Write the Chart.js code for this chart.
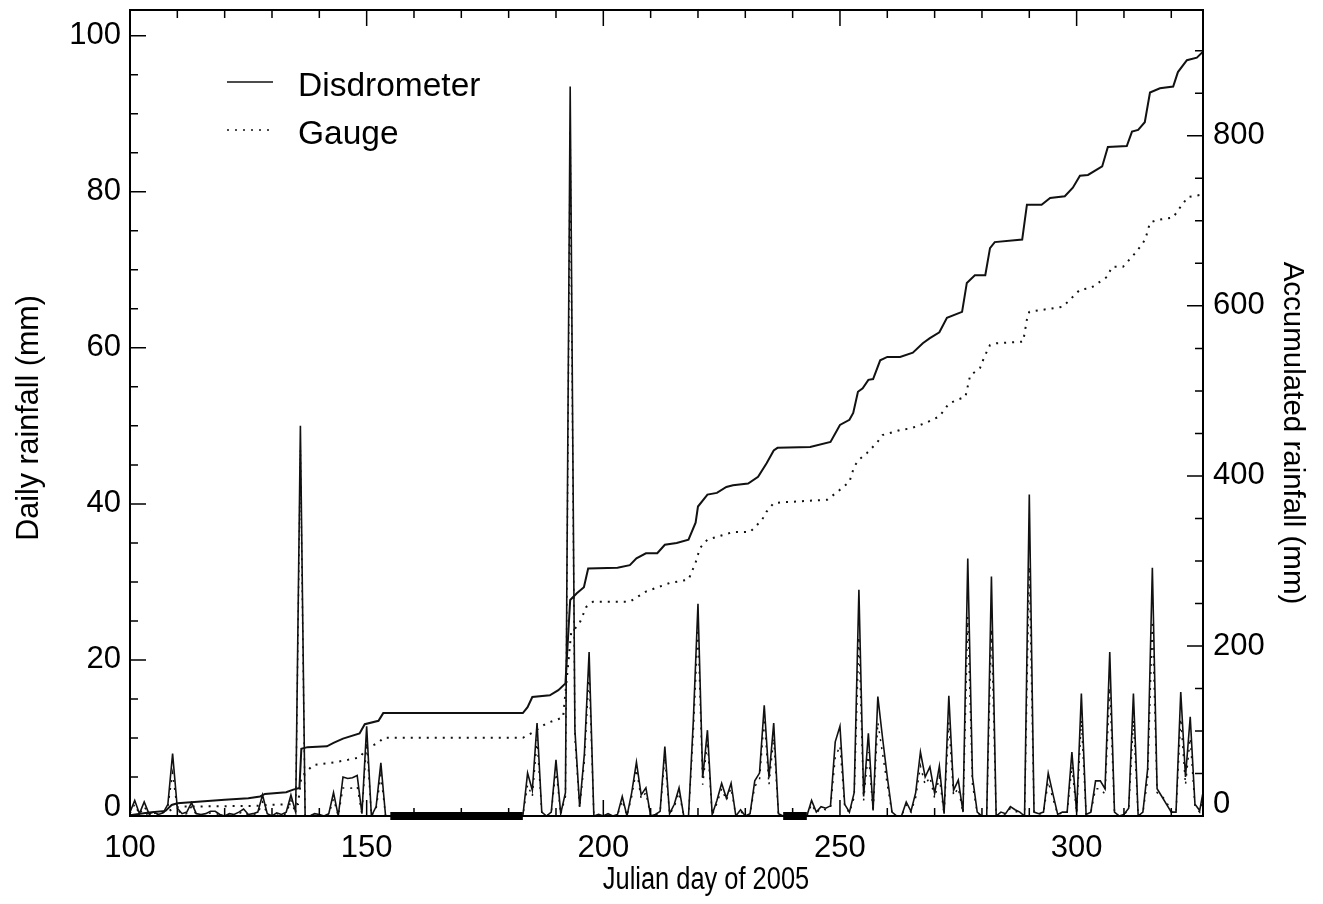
<!DOCTYPE html>
<html><head><meta charset="utf-8">
<script src="https://cdn.jsdelivr.net/npm/chart.js@4.4.1/dist/chart.umd.min.js"></script>
<style>html,body{margin:0;padding:0;background:#fff;}canvas{display:block;}</style>
</head><body>
<canvas id="c" width="1323" height="904"></canvas>
<script>
// ---- data ----
const days = [
100,101,102,103,104,105,106,107,108,109,
110,111,112,113,114,115,116,117,118,119,
120,121,122,123,124,125,126,127,128,129,
130,131,132,133,134,135,136,137,138,139,
140,141,142,143,144,145,146,147,148,149,
150,151,152,153,154,155,156,157,158,159,
160,161,162,163,164,165,166,167,168,169,
170,171,172,173,174,175,176,177,178,179,
180,181,182,183,184,185,186,187,188,189,
190,191,192,193,194,195,196,197,198,199,
200,201,202,203,204,205,206,207,208,209,
210,211,212,213,214,215,216,217,218,219,
220,221,222,223,224,225,226,227,228,229,
230,231,232,233,234,235,236,237,238,239,
240,241,242,243,244,245,246,247,248,249,
250,251,252,253,254,255,256,257,258,259,
260,261,262,263,264,265,266,267,268,269,
270,271,272,273,274,275,276,277,278,279,
280,281,282,283,284,285,286,287,288,289,
290,291,292,293,294,295,296,297,298,299,
300,301,302,303,304,305,306,307,308,309,
310,311,312,313,314,315,316,317,318,319,
320,321,322,323,324,325,326,327];

const disdrometerDaily = [
0.5,2.0,0.3,1.8,0.3,0.5,0.2,0.4,1.5,8.0,
1.0,0.3,0.5,1.7,0.3,0.2,0.3,0.6,0.6,0.2,
0.0,0.3,0.2,0.5,0.9,0.2,0.3,0.5,2.7,0.3,
0.0,0.4,0.2,0.5,2.7,0.5,50.0,0.0,0.0,0.3,
0.2,0.0,0.3,3.0,0.0,5.0,4.8,4.9,5.2,0.3,
11.5,0.0,1.2,6.8,0.0,0,0,0,0,0,
0,0,0,0,0,0,0,0,0,0,
0,0,0,0,0,0,0,0,0,0,
0,0,0,0.0,5.5,3.3,11.9,0.5,0.0,0.5,
7.2,0.3,3.0,93.5,11.0,1.2,8.0,21.0,0.0,0.2,
0.0,0.3,0.0,0.2,2.5,0.0,3.0,6.9,2.7,3.6,
0.0,0.2,0.6,8.9,0.3,1.5,3.6,0.0,0.0,12.0,
27.2,4.9,11.0,0.2,2.0,4.2,2.3,4.2,0.0,0.8,
0.0,0.3,4.5,5.5,14.2,4.9,11.9,0.3,0,0,
0,0,0,0,2.0,0.5,1.2,1.0,1.3,9.5,
11.5,1.5,0.5,3.0,29.0,2.5,10.6,0.7,15.3,10.0,
5.0,0.5,0.0,0.0,1.8,0.6,3.0,8.2,5.0,6.3,
2.9,6.4,0.3,15.4,3.3,4.6,0.5,33.0,5.0,0.5,
0.0,0.0,30.7,0.0,0.5,0.3,1.2,0.8,0.5,0.0,
41.2,0.5,0.3,0.5,5.5,2.8,0.2,0.5,0.5,8.2,
0.5,15.7,0.2,0.5,4.5,4.5,3.5,21.0,0.5,0.0,
0.2,1.0,15.7,0.0,0.5,6.0,31.8,3.5,2.5,1.5,
0.5,0.5,15.9,5.0,12.7,1.5,0.7,4.0];

const gaugeDaily = [
0.3,1.5,0.2,1.2,0.2,0.4,0.2,0.3,1.2,5.5,
0.8,0.2,0.3,1.2,0.2,0.1,0.2,0.4,0.4,0.1,
0.0,0.2,0.1,0.3,0.6,0.1,0.2,0.3,1.8,0.2,
0.0,0.3,0.1,0.3,2.0,0.3,47.0,0.0,0.0,0.2,
0.1,0.0,0.2,2.2,0.0,3.6,3.5,3.6,3.8,0.2,
9.5,0.0,0.9,5.2,0.0,0,0,0,0,0,
0,0,0,0,0,0,0,0,0,0,
0,0,0,0,0,0,0,0,0,0,
0,0,0,0.0,4.0,2.5,9.8,0.4,0.0,0.4,
6.0,0.2,2.5,88.0,10.0,1.0,7.0,18.5,0.0,0.1,
0.0,0.2,0.0,0.1,2.0,0.0,2.5,6.0,2.2,3.0,
0.0,0.1,0.5,7.5,0.2,1.2,3.0,0.0,0.0,10.5,
24.0,4.0,9.5,0.1,1.6,3.5,2.0,3.6,0.0,0.6,
0.0,0.2,3.8,4.6,12.5,4.0,10.0,0.2,0,0,
0,0,0,0,1.5,0.4,1.0,0.8,1.0,7.5,
9.0,1.2,0.4,2.4,23.0,2.0,8.2,0.5,12.0,8.0,
4.0,0.4,0.0,0.0,1.4,0.5,2.4,6.4,4.0,5.0,
2.3,5.0,0.2,12.0,2.6,3.6,0.4,25.5,4.0,0.4,
0.0,0.0,24.0,0.0,0.4,0.2,1.0,0.6,0.4,0.0,
32.0,0.4,0.2,0.4,4.4,2.2,0.2,0.4,0.4,6.4,
0.4,12.3,0.2,0.4,3.5,3.5,2.8,16.5,0.4,0.0,
0.2,0.8,12.3,0.0,0.4,4.7,25.0,3.0,2.6,1.8,
0.6,0.4,12.5,4.0,10.0,1.2,0.5,3.2];

const accDisdrometerDays = [100,104,107.5,108.8,110,115,120,125,127.5,128.5,133,134.5,135.8,136.2,137.5,141.6,143,145,148.5,149.6,152.5,153.5,183,184,185,188.7,190.5,192,193,194.4,195.9,196.8,203,205.6,207,209,211.4,213,215.5,218,219.5,220,222,224,226,227.4,230.6,232.7,234.5,236,236.8,243.7,248,250,252,252.8,253.8,254.8,256,257,258.5,260,262.7,265.4,267.5,269,271,272.6,275.8,276.8,278.5,280.7,281.7,282.7,288.5,289.5,292.6,294.4,297.5,299.2,300.7,302.4,305.4,306.6,310.6,311.7,313,314.4,315.5,317.6,320.4,321.4,323.3,325.4,326.7];
const accDisdrometer = [1,4,6,13,15,17,19,21,23,26,28,31,33,79,81,82,86,91,97,108,112,121,121,128,140,142,148,156,254,262,269,291,292,295,303,309,309,319,321,325,345,364,378,380,387,389,391,399,415,430,433,434,440,460,466,474,499,503,513,514,536,540,540,545,556,562,569,586,593,627,636,636,668,675,678,719,719,727,729,739,753,754,764,787,788,805,807,816,851,856,858,875,889,892,899];

const accGaugeDays = [100,104,108,109.5,111,127,129,135.5,136.2,138.7,143,146,148.6,150,152.5,153.5,183,185,188,191.5,193.2,195,196.4,197.8,205.6,209,214,218,219.5,220.4,222,227.4,231,233.5,234.5,236,238,247.3,249.4,252,253,254,255.7,257.8,259,262.7,265,268,271,273,275,276.5,277.5,279.6,280.5,281.7,283,288.7,289.5,290,297.1,300.7,303,306.4,307.5,309.8,312.7,314.5,315.5,317,320.4,321.5,323.5,326.7];
const accGauge = [1,3,5,10,11,12,13,14,46,60,63,66,69,80,86,92,92,98,109,116,215,227,246,252,252,264,274,278,298,315,325,334,334,348,358,368,369,372,381,393,411,419,427,439,448,454,456,462,470,485,490,493,518,527,540,554,556,558,584,593,599,619,621,634,646,646,664,678,698,701,704,713,728,731];

// missing-data periods marked on the day axis
const missingStart = [155, 238];
const missingEnd = [183, 243];

const seriesNames = ['Disdrometer', 'Gauge'];
const xTickValues = [100, 150, 200, 250, 300];
const yTickValues = [0, 20, 40, 60, 80, 100];
const y2TickValues = [0, 200, 400, 600, 800];
const axisTitleX = 'Julian day of 2005';
const axisTitleY = 'Daily rainfall (mm)';
const axisTitleY2 = 'Accumulated rainfall (mm)';

// ---- styling ----
const FONT = '"Liberation Sans", Arial, Helvetica, sans-serif';
const INK = '#111';
const DOT = [2, 6];
const ZERO_LIFT_Y = 1.15;   // the "0" labels sit a little above the bottom tick
const ZERO_LIFT_Y2 = 13;

const pts = (xs, ys) => xs.map((x, i) => ({x: x, y: ys[i]}));

const datasets = [
  {label: seriesNames[0] + ' accumulated', data: pts(accDisdrometerDays, accDisdrometer), yAxisID: 'y2', borderColor: INK, borderWidth: 2},
  {label: seriesNames[1] + ' accumulated', data: pts(accGaugeDays, accGauge), yAxisID: 'y2', borderColor: INK, borderWidth: 2, borderDash: DOT},
  {label: seriesNames[0], data: pts(days, disdrometerDaily), yAxisID: 'y', borderColor: INK, borderWidth: 1.6},
  {label: seriesNames[1], data: pts(days, gaugeDaily), yAxisID: 'y', borderColor: INK, borderWidth: 1.5, borderDash: DOT}
];
missingStart.forEach((s, i) => {
  datasets.push({label: 'missing', data: [{x: s, y: 0}, {x: missingEnd[i], y: 0}], yAxisID: 'y',
    borderColor: '#000', borderWidth: 8, borderCapStyle: 'butt', clip: false});
});

const frameAndTicks = {
  id: 'frameAndTicks',
  afterDatasetsDraw(chart) {
    const {ctx, chartArea: a, scales} = chart;
    ctx.save();
    ctx.strokeStyle = '#000';
    ctx.lineWidth = 1.5;
    ctx.beginPath();
    const sx = scales.x;
    for (let v = 100; v <= sx.max; v += 10) {
      const p = sx.getPixelForValue(v), L = v % 50 === 0 ? 16 : 8;
      ctx.moveTo(p, a.bottom); ctx.lineTo(p, a.bottom - L);
      ctx.moveTo(p, a.top); ctx.lineTo(p, a.top + L);
    }
    const sy = scales.y;
    for (let v = 0; v <= sy.max; v += 5) {
      const p = sy.getPixelForValue(v), L = v % 20 === 0 ? 16 : 8;
      ctx.moveTo(a.left, p); ctx.lineTo(a.left + L, p);
    }
    const s2 = scales.y2;
    for (let v = 0; v <= s2.max; v += 50) {
      const p = s2.getPixelForValue(v), L = v % 200 === 0 ? 16 : 8;
      ctx.moveTo(a.right, p); ctx.lineTo(a.right - L, p);
    }
    ctx.stroke();
    ctx.lineWidth = 2;
    ctx.strokeRect(a.left, a.top, a.right - a.left, a.bottom - a.top);
    ctx.restore();
  }
};

const insideLegend = {
  id: 'insideLegend',
  afterDraw(chart) {
    const {ctx, chartArea: a} = chart;
    ctx.save();
    ctx.font = '33.5px ' + FONT;
    ctx.fillStyle = '#000';
    ctx.textBaseline = 'middle';
    seriesNames.forEach((name, i) => {
      const ds = chart.data.datasets[2 + i];
      const y = a.top + 72 + i * 48;
      ctx.strokeStyle = INK;
      ctx.lineWidth = 1.5;
      ctx.setLineDash(ds.borderDash || []);
      ctx.beginPath();
      ctx.moveTo(a.left + 97, y);
      ctx.lineTo(a.left + 143, y);
      ctx.stroke();
      ctx.setLineDash([]);
      ctx.fillText(name, a.left + 168, y + 5);
    });
    ctx.restore();
  }
};

const axisTitles = {
  id: 'axisTitles',
  afterDraw(chart) {
    const {ctx, chartArea: a} = chart;
    ctx.save();
    ctx.fillStyle = '#000';
    ctx.textAlign = 'center';
    ctx.textBaseline = 'middle';
    ctx.save();
    ctx.translate(a.left + 576, a.bottom + 64);
    ctx.scale(0.82, 1);
    ctx.font = '31px ' + FONT;
    ctx.fillText(axisTitleX, 0, 0);
    ctx.restore();
    ctx.save();
    ctx.translate(30, a.top + 408);
    ctx.rotate(-Math.PI / 2);
    ctx.font = '30.5px ' + FONT;
    ctx.fillText(axisTitleY, 0, 0);
    ctx.restore();
    ctx.save();
    ctx.translate(1292, a.top + 423);
    ctx.rotate(Math.PI / 2);
    ctx.font = '29.5px ' + FONT;
    ctx.fillText(axisTitleY2, 0, 0);
    ctx.restore();
    ctx.restore();
  }
};

const noPad = s => { s.paddingTop = 0; s.paddingBottom = 0; s.paddingLeft = 0; s.paddingRight = 0; };
const tickFont = {family: FONT, size: 31};

new Chart(document.getElementById('c'), {
  type: 'line',
  data: {datasets: datasets},
  plugins: [frameAndTicks, insideLegend, axisTitles],
  options: {
    responsive: false,
    animation: false,
    devicePixelRatio: 1,
    layout: {padding: {top: 10, left: 0, right: 0, bottom: 0}},
    elements: {point: {radius: 0}, line: {tension: 0, borderJoinStyle: 'miter'}},
    plugins: {legend: {display: false}, tooltip: {enabled: false}},
    scales: {
      x: {
        type: 'linear', position: 'bottom', min: 100, max: 326.7,
        afterBuildTicks: s => { s.ticks = xTickValues.map(v => ({value: v})); },
        afterFit: s => { s.height = 88; noPad(s); },
        grid: {display: false, drawTicks: false}, border: {display: false},
        ticks: {font: tickFont, color: '#000', padding: 14, maxRotation: 0, autoSkip: false},
        title: {display: false}
      },
      y: {
        type: 'linear', position: 'left', min: 0, max: 103.3,
        afterBuildTicks: s => { s.ticks = yTickValues.map(v => ({value: v === 0 ? ZERO_LIFT_Y : v})); },
        afterFit: s => { s.width = 130; noPad(s); },
        grid: {display: false, drawTicks: false}, border: {display: false},
        ticks: {font: tickFont, color: '#000', padding: 9, callback: v => String(Math.round(v / 20) * 20)},
        title: {display: false}
      },
      y2: {
        type: 'linear', position: 'right', min: 0, max: 948,
        afterBuildTicks: s => { s.ticks = y2TickValues.map(v => ({value: v === 0 ? ZERO_LIFT_Y2 : v})); },
        afterFit: s => { s.width = 120; noPad(s); },
        grid: {display: false, drawTicks: false}, border: {display: false},
        ticks: {font: tickFont, color: '#000', padding: 10, callback: v => String(Math.round(v / 200) * 200)},
        title: {display: false}
      }
    }
  }
});
</script>
</body></html>
